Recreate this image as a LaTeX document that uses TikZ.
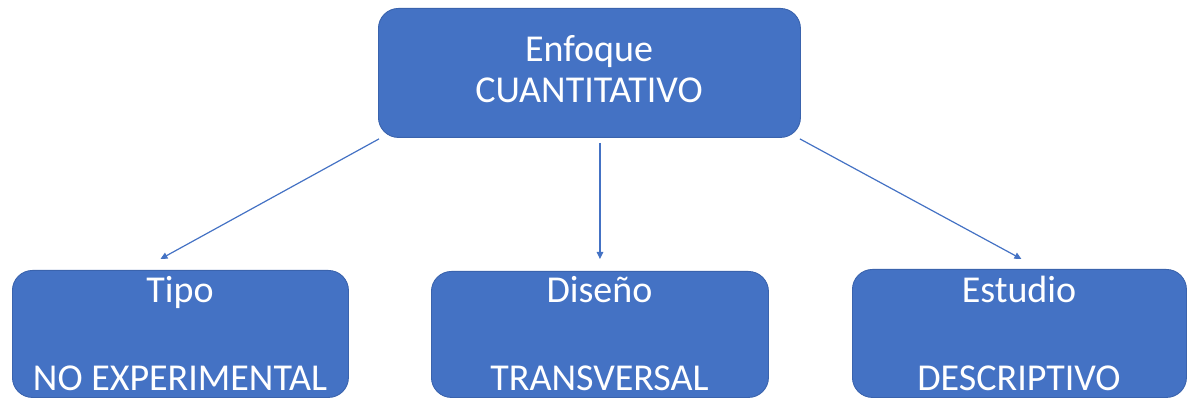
\documentclass[tikz,border=0pt]{standalone}
\usepackage{fontspec}
\setmainfont{Carlito}
\usetikzlibrary{arrows.meta,calc}
\definecolor{boxfill}{HTML}{4472C4}
\definecolor{boxline}{HTML}{3A63AD}
\definecolor{arrcol}{HTML}{4472C4}
\tikzset{
  x=1pt,y=-1pt,
  box/.style={draw=boxline,line width=0.9pt,fill=boxfill,rounded corners=20pt,inner sep=0pt,anchor=north west},
  txt/.style={text=white,font=\fontsize{38}{44}\selectfont,anchor=base,inner sep=0pt},
  arr/.style={draw=arrcol,line width=1.2pt,-{Triangle[length=7pt,width=6.5pt]}}
}
\begin{document}
\begin{tikzpicture}
\useasboundingbox (0,0) rectangle (1187,398);
\node[box,minimum width=422pt,minimum height=129pt] (top) at (378,8) {};
\node[box,minimum width=336pt,minimum height=127pt] (tipo) at (12,270) {};
\node[box,minimum width=337pt,minimum height=126pt] (diseno) at (431,271) {};
\node[box,minimum width=334pt,minimum height=128pt] (estudio) at (852,269) {};
\node[txt] (t1) at (589,62) {Enfoque};
\node[txt] (t2) at (589,103) {CUANTITATIVO};
\node[txt] (a1) at (180,303) {Tipo};
\node[txt] (a2) at (180,390) {NO EXPERIMENTAL};
\node[txt] (b1) at (599.5,303) {Diseño};
\node[txt] (b2) at (599.5,390) {TRANSVERSAL};
\node[txt] (c1) at (1019,303) {Estudio};
\node[txt] (c2) at (1019,390) {DESCRIPTIVO};
\draw[arr] ([xshift=1pt,yshift=-1pt]top.south west) -- ([xshift=-20pt,yshift=11pt]tipo.north);
\draw[arr] ([yshift=-5pt]top.south -| diseno.north) -- ([yshift=12pt]diseno.north);
\draw[arr] ([xshift=-1pt,yshift=-1pt]top.south east) -- ([xshift=2pt,yshift=10pt]estudio.north);
\end{tikzpicture}
\end{document}
